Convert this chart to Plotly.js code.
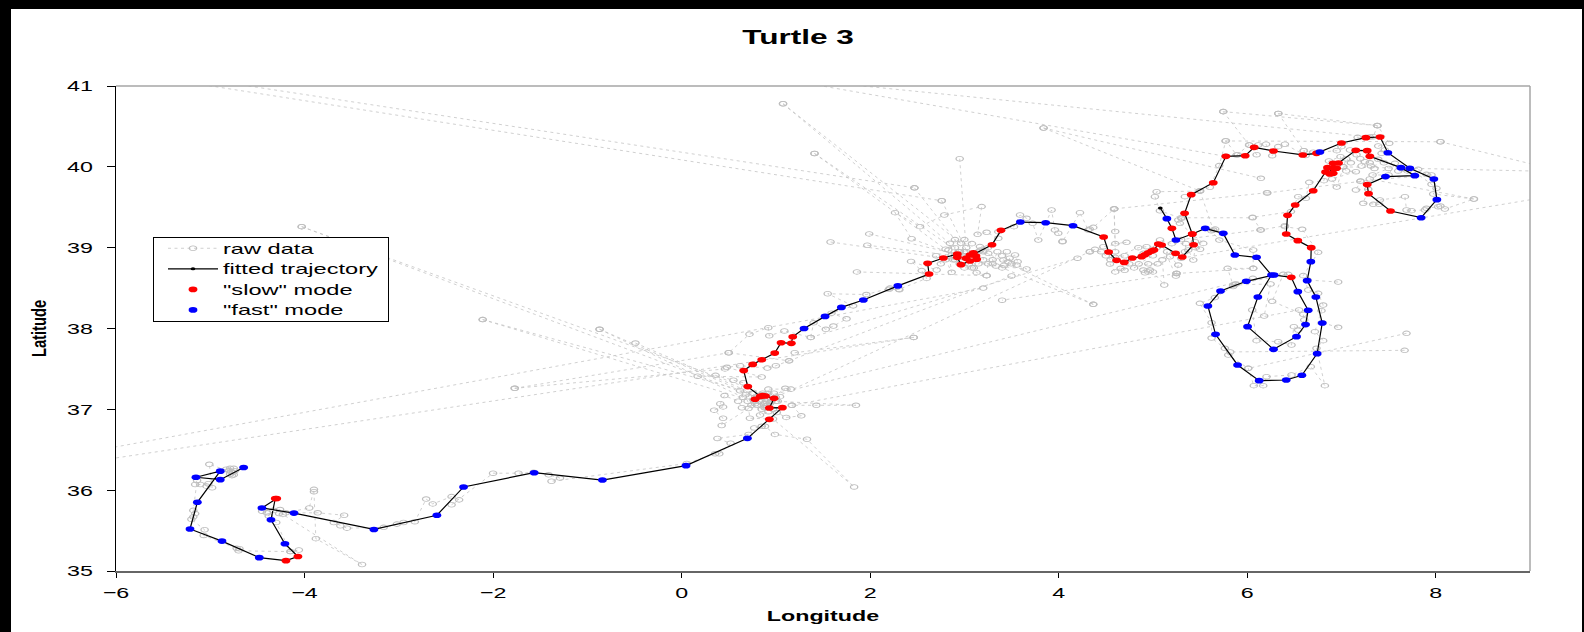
<!DOCTYPE html>
<html>
<head>
<meta charset="utf-8">
<script src="https://cdn.plot.ly/plotly-3.0.1.min.js"></script>
<style>
html,body{margin:0;padding:0;background:#000;width:1584px;height:632px;overflow:hidden}
#plot{position:absolute;left:11px;top:9px;width:1571px;height:623px;background:#fff}
</style>
</head>
<body>
<div id="plot"></div>
<script>
// Fitted trajectory: longitude, latitude, and behavioural mode at each fix (f = fast, s = slow, n = last fix, no mode)
const fitLon = [-4.646,-4.894,-5.152,-4.894,-5.137,-5.215,-4.876,-4.48,-4.197,-4.07,-4.208,-4.356,-4.31,-4.295,-4.452,-4.112,-3.264,-2.596,-2.313,-1.564,-0.84,0.047,0.698,
 0.931,1.069,0.931,0.981,0.89,0.861,0.779,0.835,0.702,0.659,0.754,0.85,0.988,1.055,1.164,1.179,1.299,1.522,1.695,1.928,2.294,
 2.625,2.61,2.777,2.925,2.925,2.964,3.059,3.13,3.123,3.095,3.059,3.017,3.293,3.388,3.593,3.862,4.152,
 4.477,4.53,4.615,4.696,4.781,4.88,4.915,4.95,4.986,5.011,5.057,5.092,5.24,5.311,5.431,5.417,
 5.555,5.746,5.869,6.099,6.258,6.113,6.004,6.279,6.523,6.619,6.647,6.537,6.467,6.286,5.99,5.717,5.583,5.664,5.898,6.127,6.414,6.58,6.742,6.796,6.728,6.636,6.675,
 6.679,6.537,6.414,6.428,6.509,6.7,6.831,6.877,6.912,6.852,6.912,6.948,6.912,6.969,7.152,7.273,7.301,
 7.63,7.778,7.467,7.273,7.287,7.52,7.845,8.012,7.98,7.725,7.492,7.41,7.259,7.0,6.771,6.735,6.59,6.279,6.074,5.979,5.774,5.64,5.406,5.336,5.417,5.244,5.201,5.148,5.078];
const fitLat = [36.28,36.13,36.16,36.235,35.85,35.52,35.37,35.165,35.128,35.18,35.337,35.634,35.897,35.897,35.78,35.716,35.514,35.69,36.04,36.216,36.125,36.303,36.641,
 36.876,37.021,37.017,37.136,37.165,37.17,37.124,37.16,37.281,37.479,37.556,37.614,37.696,37.824,37.816,37.898,38.0,38.15,38.261,38.352,38.527,
 38.674,38.806,38.872,38.922,38.88,38.79,38.835,38.856,38.897,38.938,38.909,38.868,39.037,39.214,39.317,39.309,39.272,
 39.132,38.946,38.843,38.818,38.872,38.889,38.913,38.938,38.959,38.971,39.045,39.033,38.93,38.885,39.037,39.169,
 39.239,39.177,38.909,38.881,38.662,38.39,38.023,37.742,37.899,38.048,38.225,38.456,38.633,38.662,38.584,38.464,38.279,37.928,37.549,37.355,37.363,37.421,37.689,38.068,38.39,38.592,38.827,
 39.0,39.087,39.169,39.4,39.528,39.705,39.936,39.912,39.92,39.99,39.982,39.982,40.043,40.048,40.204,40.2,40.13,
 39.99,39.891,39.879,39.78,39.668,39.454,39.371,39.594,39.85,39.982,40.175,40.369,40.361,40.295,40.184,40.167,40.147,40.196,40.241,40.138,40.13,39.804,39.656,39.425,39.169,39.095,39.239,39.359,39.491];
const fitMode = ['f','f','f','f','f','f','f','f','s','s','f','f','s','s','f','f','f','f','f','f','f','f','f',
 's','s','s','s','s','s','s','s','s','s','s','s','s','s','s','s','f','f','f','f','f',
 's','s','s','s','s','s','s','s','s','s','s','s','s','s','f','f','f',
 's','s','s','s','s','s','s','s','s','s','s','s','s','s','s','s',
 'f','f','f','f','f','f','f','f','f','f','f','f','s','f','f','f','f','f','f','f','f','f','f','f','f','f','f',
 's','s','s','s','s','s','s','s','s','s','s','s','s','s','s','s','s',
 'f','f','f','s','s','s','f','f','f','f','f','s','s','s','f','s','s','s','s','s','s','s','s','s','s','f','s','f','n'];

// Raw location fixes [lon, lat], region by region
const rawSouthWest = [[-4.79,36.27],[-4.83,36.26],[-4.75,36.27],[-4.78,36.23],[-4.74,36.24],[-4.77,36.18],[-4.75,36.19],[-4.79,36.2],[-4.8,36.24],[-4.76,36.22],[-5.01,36.32],[-4.98,36.03],[-5.04,36.05],[-5.02,36.08],[-5.105,36.07],[-5.16,36.07],[-5.14,36.12],[-5.18,35.75],[-5.16,35.71],[-5.18,35.67],[-5.2,35.64],[-5.06,35.51],[-5.07,35.44],[-4.72,35.28],[-4.69,35.275],[-4.7,35.25],[-4.15,35.24],[-4.06,35.26],[-4.15,35.24],[-4.3,35.6],[-4.45,35.74],[-4.4,35.72],[-4.38,35.68],[-4.33,35.75],[-4.26,35.76],[-4.27,35.71],[-4.23,35.7],[-3.39,35.08],[-3.88,35.4],[-3.9,35.98],[-3.9,36.01],[-3.95,35.78],[-4.2,35.72],[-3.86,35.72],[-3.58,35.69],[-3.69,35.6],[-3.62,35.56],[-3.55,35.53],[-3.16,35.54],[-3.02,35.58],[-2.95,35.6],[-2.83,35.61],[-2.71,35.89],[-2.64,35.83],[-2.44,35.92],[-2.36,35.88],[-2.44,35.82],[-2.0,36.21]];
const rawGulf = [[-1.73,36.21],[-1.57,36.22],[-1.41,36.19],[-1.29,36.15],[-1.38,36.11],[0.055,36.33],[0.355,36.45],[0.4,36.45],[0.52,36.58],[0.38,36.64],[0.71,36.69],[0.77,36.77],[0.85,36.79],[0.885,36.79],[0.99,36.69],[1.33,36.63],[1.83,36.04],[0.97,36.88],[0.725,36.89],[0.71,37.01],[0.425,36.8],[0.44,36.89],[0.345,36.99],[0.44,37.03],[0.41,37.07],[0.455,37.17],[0.6,37.1],[0.64,37.02],[0.74,37.05],[0.7,37.1],[0.68,37.18],[0.78,37.07],[0.87,37.07],[0.82,37.1],[0.9,37.13],[0.95,37.1],[0.85,37.18],[0.92,37.2],[0.8,37.15],[0.762,37.116],[0.76,37.2],[0.832,36.93],[0.921,36.971],[0.9,37.02],[0.8,37.05],[0.85,37.0],[0.88,37.02],[1.01,36.96],[1.11,36.9],[1.27,36.92],[1.17,37.05],[1.43,37.05],[1.85,37.05],[1.0,37.1],[1.02,37.1],[1.044,37.157],[0.98,37.2],[0.938,37.074],[0.885,37.074],[1.1,37.26],[1.16,37.25],[0.92,37.25],[0.97,37.0],[0.62,37.23],[0.655,37.33],[0.55,37.36],[0.36,37.42],[0.17,37.41],[0.85,37.4],[0.48,37.52],[0.62,37.54],[0.91,37.51],[1.0,37.54],[1.14,37.6],[0.5,37.7],[0.72,37.93],[0.92,38.01],[0.93,37.91],[1.09,37.97],[1.37,37.89],[1.4,38.07],[1.53,37.99],[1.61,38.03],[1.75,38.12],[1.59,38.19],[1.82,38.28],[1.55,38.43],[1.96,38.42],[2.21,38.5],[2.31,38.48],[2.2,38.485]];
const rawBalearic = [[2.306,38.485],[2.6,38.62],[2.547,38.716],[2.434,38.83],[2.706,38.724],[2.75,38.8],[2.7,38.9],[2.8,38.85],[2.865,38.695],[2.83,38.97],[2.847,39.054],[2.865,38.91],[2.88,38.85],[2.9,39.0],[2.9,39.1],[2.964,39.054],[3.0,39.1],[3.08,39.05],[2.94,38.95],[3.0,38.9],[2.95,38.8],[3.05,38.8],[3.0,38.75],[3.08,38.75],[3.1,38.75],[3.13,38.691],[3.236,38.654],[3.25,38.8],[3.15,38.8],[3.2,38.85],[3.2,38.95],[3.15,38.95],[3.165,39.013],[3.25,39.0],[3.254,38.93],[3.3,38.85],[3.3,38.8],[3.35,38.95],[3.4,38.9],[3.45,38.95],[3.413,38.848],[3.466,38.827],[3.48,38.87],[3.537,38.91],[3.565,38.827],[3.5,38.8],[3.42,38.78],[3.554,38.786],[3.66,38.736],[3.335,38.774],[2.98,38.88],[2.44,39.11],[2.264,39.433],[2.53,39.26],[2.787,39.404],[3.183,39.508],[3.14,39.165],[3.236,39.19],[3.36,39.116],[3.36,39.198],[3.526,39.26],[3.59,39.404],[3.66,39.363],[3.724,39.301],[3.784,39.095],[3.925,39.466],[3.96,39.219],[3.996,39.178],[4.042,39.079],[4.04,39.074],[4.226,39.433],[4.314,39.218],[4.33,39.23],[4.367,39.251],[4.587,39.478],[4.6,39.2],[4.6,39.05],[4.72,39.066],[4.474,39.012],[4.385,38.979],[4.332,38.95]];
const rawMenorca = [[4.45,38.95],[4.5,38.9],[4.55,38.85],[4.544,38.798],[4.6,38.7],[4.657,38.744],[4.7,38.72],[4.75,38.8],[4.7,38.9],[4.6,38.88],[4.845,39.0],[4.933,39.012],[5.039,39.0],[4.9,38.93],[5.0,38.9],[4.85,38.8],[4.8,38.75],[4.95,38.8],[5.05,38.8],[4.898,38.723],[4.915,38.69],[4.95,38.7],[4.968,38.723],[5.0,38.7],[5.12,38.538],[5.1,38.85],[5.15,38.95],[5.18,38.888],[5.269,38.785],[5.251,38.682],[5.244,38.649],[5.075,39.095],[5.2,39.05],[5.35,39.05],[5.34,38.95],[5.375,38.971],[5.428,38.847],[5.45,39.0],[5.5,38.98],[5.446,39.074],[5.534,39.053],[5.286,39.301],[5.269,39.342],[5.304,39.362],[5.074,39.457],[5.021,39.63],[5.039,39.692],[5.5,39.7],[5.64,39.218],[5.66,39.23],[5.62,39.21],[5.704,39.094],[6.064,38.971],[6.064,38.744],[5.792,38.744],[5.85,38.538]];
const rawLoops = [[6.248,38.551],[6.18,38.155],[6.053,38.229],[6.099,37.85],[6.329,37.837],[6.47,37.796],[6.495,38.023],[6.541,37.98],[6.605,38.105],[6.594,38.175],[6.265,38.336],[6.382,38.67],[6.435,38.67],[5.869,38.547],[5.88,38.55],[5.85,38.52],[5.657,38.382],[5.498,38.311],[5.622,38.072],[5.622,37.882],[5.763,37.755],[5.799,37.672],[6.011,37.507],[6.07,37.293],[6.17,37.293],[6.205,37.404],[6.47,37.425],[6.675,37.528],[6.824,37.293],[6.735,37.755],[6.806,37.85],[6.718,37.961],[6.788,38.221],[6.806,38.29],[6.753,38.435],[6.647,38.476],[6.594,38.654],[6.753,38.942]];
const rawNorth = [[6.583,39.227],[6.4,39.26],[6.4,39.272],[6.145,39.219],[6.057,39.375],[6.464,39.446],[6.541,39.631],[6.623,39.61],[6.658,39.808],[6.814,39.829],[6.867,40.072],[6.99,40.126],[7.019,40.002],[7.05,39.95],[7.153,39.94],[6.9,39.85],[6.95,39.75],[7.05,40.1],[7.1,40.05],[7.09,40.208],[7.16,40.15],[7.2,40.1],[7.213,40.01],[7.249,40.064],[7.3,40.05],[7.312,40.01],[7.35,39.98],[7.39,40.093],[7.45,40.05],[7.5,39.98],[7.33,39.899],[7.5,39.9],[7.567,40.043],[7.65,39.98],[7.602,39.949],[7.7,39.95],[7.814,39.969],[7.902,39.907],[7.955,39.899],[7.203,39.825],[7.153,39.714],[7.284,39.722],[7.231,39.549],[7.337,39.536],[7.4,39.536],[7.408,39.59],[7.673,39.631],[7.69,39.466],[7.743,39.458],[7.885,39.466],[7.902,39.487],[8.026,39.507],[8.05,39.515],[8.097,39.478],[8.405,39.602],[7.973,39.664],[8.008,39.734],[7.955,39.784],[7.46,40.208],[7.425,40.167],[7.39,40.258],[7.507,40.291],[7.383,40.509],[7.337,40.373],[7.171,40.365],[7.0,40.25],[6.95,40.2],[6.75,40.18],[6.7,40.18],[6.6,40.2],[6.62,40.14],[6.4,40.279],[6.329,40.25],[6.265,40.138],[6.2,40.28],[6.117,40.27],[6.1,40.15],[6.021,40.27],[5.9,40.15],[5.887,40.147],[5.774,40.324],[5.703,40.015],[5.604,39.747],[5.498,39.705],[5.339,39.631]];
// Long excursions to outlying fixes, each entry one dotted segment [from, to]
const rawExcursions = [
 [[-4.03,39.26],[0.86,37.2]],[[-4.03,39.26],[0.78,37.15]],[[-2.11,38.11],[0.75,37.2]],[[-2.11,38.11],[0.9,37.05]],
 [[-0.87,37.99],[0.9,37.1]],[[-0.87,37.99],[0.65,37.15]],[[-0.49,37.82],[0.95,37.1]],[[-1.77,37.26],[0.5,37.7]],[[-1.77,37.26],[0.46,37.5]],
 [[-9.68,35.75],[3.2,38.5]],[[-9.68,35.75],[2.462,37.89]],[[2.462,37.89],[1.2,37.7]],
 [[-20,43.75],[2.47,39.74]],[[-20,43.75],[2.76,39.58]],[[2.47,39.74],[3.0,38.95]],[[2.76,39.58],[3.05,38.9]],
 [[1.076,40.78],[2.95,38.95]],[[1.076,40.78],[3.02,39.0]],[[1.41,40.165],[3.0,38.9]],[[1.41,40.165],[2.8,38.98]],[[2.95,40.1],[3.02,38.95]],
 [[1.99,39.17],[3.0,38.9]],[[1.97,39.03],[2.9,38.9]],[[1.58,39.07],[2.9,38.85]],[[1.86,38.7],[3.236,38.654]],
 [[3.84,40.48],[6.145,39.858]],[[3.84,40.48],[5.5,39.7]],[[0.9,41.12],[7.3,40.37]],[[0.9,41.12],[5.77,40.13]],
 [[5.77,40.32],[8.05,40.31]],[[5.746,40.683],[7.38,40.51]],[[6.33,40.66],[7.38,40.51]],[[5.746,40.683],[6.02,40.27]],[[6.33,40.66],[6.6,40.2]],
 [[8.05,40.31],[9.35,39.94]],[[7.02,40.0],[9.35,39.94]],[[5.3,38.87],[9.5,39.69]],
 [[1.17,37.05],[6.55,38.23]],[[0.85,37.15],[6.06,38.62]],[[1.0,37.15],[4.33,38.95]],[[1.14,37.6],[3.5,38.65]],[[1.37,37.89],[4.2,38.87]],
 [[5.25,38.68],[3.4,38.35]],[[5.25,38.68],[6.064,38.744]],[[5.3,39.37],[6.057,39.37]],[[6.21,39.68],[4.59,39.48]],[[6.14,39.22],[5.3,39.1]],[[4.59,39.48],[4.6,38.95]],
 [[7.69,37.94],[6.011,37.507]],[[7.67,37.73],[5.82,37.71]],[[6.965,38.575],[6.64,38.6]],[[6.965,38.015],[6.8,38.07]],
 [[4.367,38.299],[3.17,38.97]],[[4.367,38.299],[3.4,38.75]],[[8.405,39.602],[7.3,39.85]],[[6.213,39.677],[7.2,39.82]]
];

const legendNames = ['raw data','fitted trajectory','"slow" mode','"fast" mode'];
const titleText = 'Turtle 3', xTitleText = 'Longitude', yTitleText = 'Latitude';
const xTicks = [-6,-4,-2,0,2,4,6,8], yTicks = [35,36,37,38,39,40,41];

const track = rawSouthWest.concat(rawGulf, rawBalearic, rawMenorca, rawLoops, rawNorth);
const rawX = track.map(p=>p[0]), rawY = track.map(p=>p[1]);
rawExcursions.forEach(s=>{ rawX.push(null,s[0][0],s[1][0]); rawY.push(null,s[0][1],s[1][1]); });
const pick = m => fitMode.map((v,i)=>v===m?i:-1).filter(i=>i>=0);
const slow = pick('s'), fast = pick('f');

const traces = [
 {name:legendNames[0],x:rawX,y:rawY,mode:'lines+markers',connectgaps:false,
  line:{color:'#c4c4c4',width:0.8,dash:'3px,3.5px'},
  marker:{symbol:'circle-open',size:5.5,color:'#bebebe',line:{color:'#bebebe',width:1}}},
 {name:legendNames[1],x:fitLon,y:fitLat,mode:'lines+markers',
  line:{color:'#000',width:1.2},marker:{color:'#000',size:3.6}},
 {name:legendNames[2],x:slow.map(i=>fitLon[i]),y:slow.map(i=>fitLat[i]),mode:'markers',marker:{color:'#ff0000',size:6.6}},
 {name:legendNames[3],x:fast.map(i=>fitLon[i]),y:fast.map(i=>fitLat[i]),mode:'markers',marker:{color:'#0000ff',size:6.6}}
];
const fam = '"Liberation Sans", Arial, sans-serif';
const layout = {
 width:1571,height:623,paper_bgcolor:'#fff',plot_bgcolor:'#fff',
 margin:{l:105,r:52,t:77,b:61,pad:0},
 font:{family:fam,size:15.5,color:'#000'},
 title:{text:titleText,font:{family:fam,size:20,weight:700,color:'#000'},xref:'container',yref:'container',x:0.501,y:0.955,xanchor:'center',yanchor:'middle'},
 xaxis:{range:[-6,9],autorange:false,tickvals:xTicks,ticks:'outside',ticklen:5,tickwidth:1,tickcolor:'#000',
  showgrid:false,zeroline:false,showline:true,linecolor:'#666',linewidth:1.5,ticklabelstandoff:2,
  title:{text:xTitleText,font:{family:fam,size:15.5,weight:700},standoff:10}},
 yaxis:{range:[35,41],autorange:false,tickvals:yTicks,ticks:'outside',ticklen:8,tickwidth:1,tickcolor:'#000',
  showgrid:false,zeroline:false,showline:true,linecolor:'#000',linewidth:1,ticklabelstandoff:11,
  title:{text:yTitleText,font:{family:fam,size:15.5,weight:700},standoff:25}},
 shapes:[
  {type:'line',xref:'paper',yref:'paper',x0:0,x1:1,y0:1,y1:1,line:{color:'#a6a6a6',width:1.5}},
  {type:'line',xref:'paper',yref:'paper',x0:1,x1:1,y0:0,y1:1,line:{color:'#a6a6a6',width:1.5}}
 ],
 showlegend:true,
 legend:{x:(153-116)/1414,y:(571-237)/485,xanchor:'left',yanchor:'top',bgcolor:'#fff',bordercolor:'#000',borderwidth:1,
  itemwidth:50,indentation:9,font:{family:fam,size:13.5,color:'#000'},tracegroupgap:0,itemclick:false,itemdoubleclick:false}
};

// The picture is stretched sideways: widen text and round marks the same way, leaving them real text
function stretchAbout(el,sx,sy){
 if(el.getAttribute('data-st'))return;
 const x=parseFloat(el.getAttribute('x'))||0,y=parseFloat(el.getAttribute('y'))||0,t=el.getAttribute('transform')||'';
 el.setAttribute('transform',t+' translate('+x+','+y+') scale('+sx+','+sy+') translate('+(-x)+','+(-y)+')');
 el.setAttribute('data-st','1');
}
function widen(gd){
 gd.querySelectorAll('.xtick text,.ytick text,.xtitle').forEach(el=>stretchAbout(el,1.5,1));
 gd.querySelectorAll('.gtitle').forEach(el=>stretchAbout(el,1.58,1));
 gd.querySelectorAll('.legendtext').forEach(el=>stretchAbout(el,1.75,1.14));
 gd.querySelectorAll('.ytitle').forEach(el=>stretchAbout(el,0.95,1.25));
 gd.querySelectorAll('.scatterlayer path.point,.legend path.scatterpts').forEach(el=>{
  if(el.getAttribute('data-st'))return;
  el.setAttribute('transform',(el.getAttribute('transform')||'')+' scale(1.33,0.85)');
  el.setAttribute('data-st','1');
 });
 // Legend box sized for the widened text
 gd.querySelectorAll('.legend .scrollbox').forEach(el=>{el.removeAttribute('clip-path');el.setAttribute('transform','translate(0,-5)');});
 gd.querySelectorAll('.legend rect.bg').forEach(el=>{el.setAttribute('width','235');el.setAttribute('height','84');});
}
const gd=document.getElementById('plot');
Plotly.newPlot(gd,traces,layout,{staticPlot:true,displayModeBar:false,responsive:false}).then(()=>{
 widen(gd);
 gd.on('plotly_afterplot',()=>widen(gd));
});
</script>
</body>
</html>
